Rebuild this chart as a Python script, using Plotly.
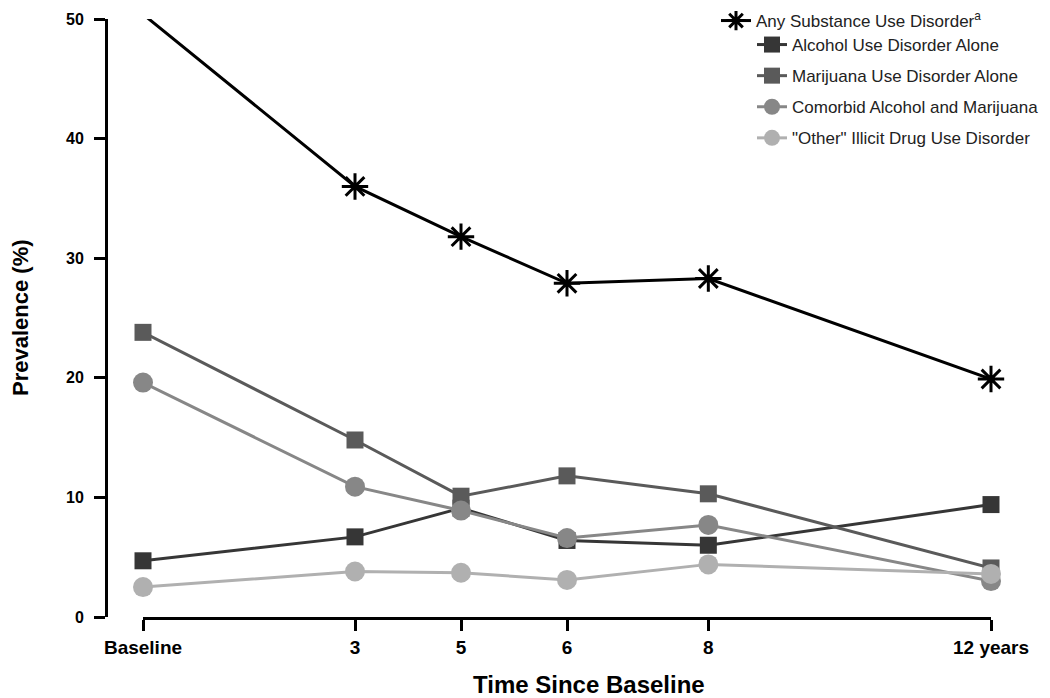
import plotly.graph_objects as go

# ---- data ----
time_pos = [0, 3, 4.5, 6, 8, 12]
tick_labels = ["Baseline", "3", "5", "6", "8", "12 years"]
any_sud = [50.4, 36.0, 31.8, 27.9, 28.3, 19.9]
alcohol_alone = [4.7, 6.7, 9.1, 6.4, 6.0, 9.4]
marijuana_alone = [23.8, 14.8, 10.1, 11.8, 10.3, 4.1]
comorbid = [19.6, 10.9, 8.9, 6.6, 7.7, 3.0]
other_drug = [2.5, 3.8, 3.7, 3.1, 4.4, 3.6]

FONT = "Liberation Sans, Arial, sans-serif"

fig = go.Figure()

fig.add_trace(go.Scatter(
    x=time_pos, y=any_sud, mode="lines+markers",
    name="Any Substance Use Disorder<sup>a</sup>",
    line=dict(color="#000000", width=3),
    marker=dict(symbol="asterisk-open", size=22, line=dict(color="#000000", width=3)),
    cliponaxis=False, legend="legend",
))

series = [
    ("Alcohol Use Disorder Alone", alcohol_alone, "#363636", "square", 17),
    ("Marijuana Use Disorder Alone", marijuana_alone, "#5a5a5a", "square", 17),
    ("Comorbid Alcohol and Marijuana", comorbid, "#878787", "circle", 20),
    ('"Other" Illicit Drug Use Disorder', other_drug, "#b0b0b0", "circle", 20),
]
for i, (name, vals, col, sym, sz) in enumerate(series):
    fig.add_trace(go.Scatter(
        x=time_pos, y=vals, mode="lines+markers", name=name,
        line=dict(color=col, width=3),
        marker=dict(symbol=sym, size=sz, color=col, line=dict(width=0)),
        cliponaxis=False, legend="legend2", legendgroup=f"g{i}",
    ))

# page body has an 8px margin; work in screen pixels and subtract it
OFF = 8
W, H = 1050 - OFF, 698 - OFF
L = 106 - OFF
T = 19 - OFF
B = 698 - 617
R = 1050 - 991
pw = W - L - R
ph = H - T - B

def px_x(p):
    return (p - OFF - L) / pw

def px_y(p):
    return (617 - p) / ph

fig.update_layout(
    width=W, height=H,
    margin=dict(l=L, r=R, t=T, b=B, autoexpand=False),
    paper_bgcolor="white", plot_bgcolor="white",
    font=dict(family=FONT, color="#000000"),
    xaxis=dict(
        domain=[px_x(143), 1], range=[0, 12], automargin=False,
        tickmode="array", tickvals=time_pos, ticktext=tick_labels,
        showline=True, linecolor="#000000", linewidth=3,
        ticks="outside", ticklen=11, tickwidth=3, tickcolor="#000000",
        tickfont=dict(family=FONT, size=19, color="#000000", weight="bold"),
        ticklabelstandoff=0,
        showgrid=False, zeroline=False,
    ),
    yaxis=dict(
        anchor="free", position=0, range=[0, 50], automargin=False,
        tickmode="array", tickvals=[0, 10, 20, 30, 40, 50],
        showline=True, linecolor="#000000", linewidth=3,
        ticks="outside", ticklen=11, tickwidth=3, tickcolor="#000000",
        tickfont=dict(family=FONT, size=16, color="#000000", weight="bold"),
        ticklabelstandoff=7,
        showgrid=False, zeroline=False,
    ),
    legend=dict(
        x=px_x(716), y=px_y(3), xanchor="left", yanchor="top",
        font=dict(family=FONT, size=17, color="#222222"),
        bgcolor="rgba(0,0,0,0)", borderwidth=0,
    ),
    legend2=dict(
        x=px_x(752), y=px_y(27), xanchor="left", yanchor="top",
        font=dict(family=FONT, size=17, color="#222222"),
        bgcolor="rgba(0,0,0,0)", borderwidth=0,
        traceorder="grouped", tracegroupgap=6,
    ),
    showlegend=True,
)

fig.add_annotation(
    text="Prevalence (%)", textangle=-90,
    xref="paper", yref="paper", x=0, y=0.5, xshift=(20 - OFF) - L,
    xanchor="center", yanchor="middle", showarrow=False,
    font=dict(family=FONT, size=22, color="#000000", weight="bold"),
)
fig.add_annotation(
    text="Time Since Baseline",
    xref="paper", yref="paper", x=px_x(589), y=0, yshift=-(684 - 617),
    xanchor="center", yanchor="middle", showarrow=False,
    font=dict(family=FONT, size=24, color="#000000", weight="bold"),
)

fig.write_html("out.html")
